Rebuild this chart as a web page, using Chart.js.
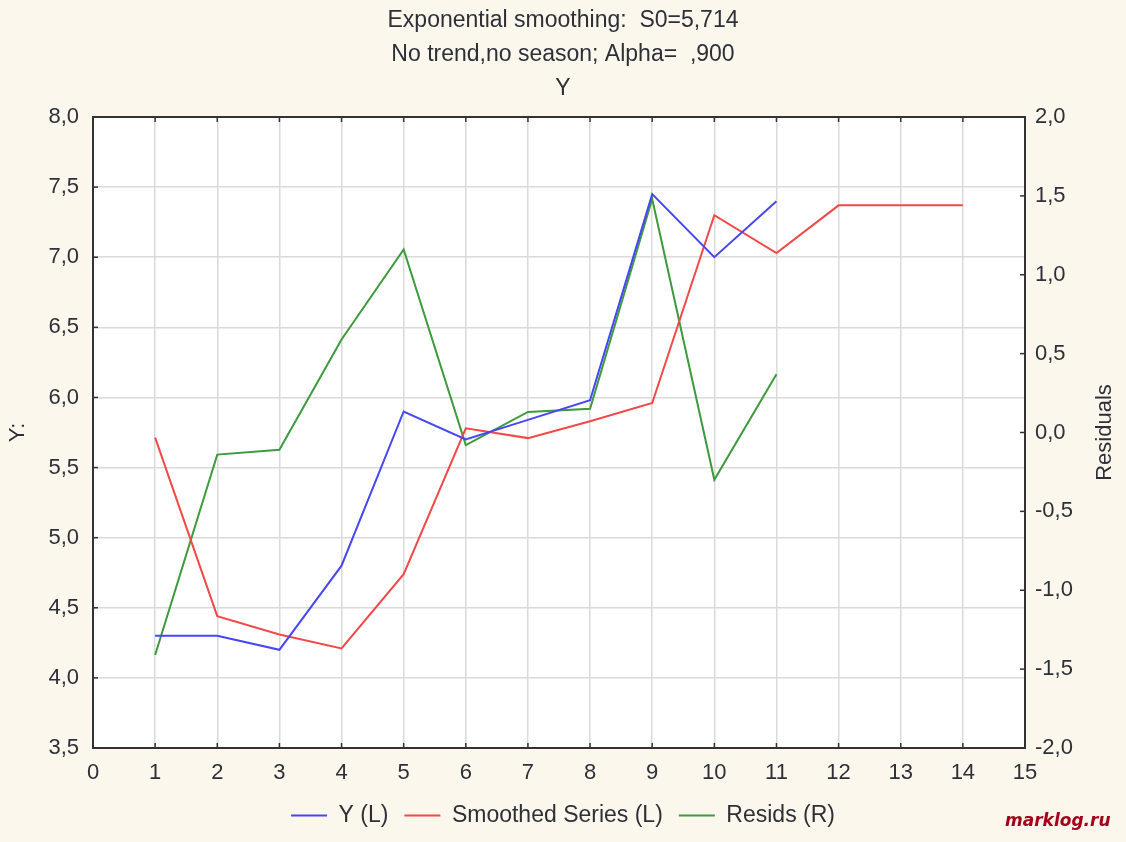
<!DOCTYPE html>
<html>
<head>
<meta charset="utf-8">
<title>Exponential smoothing</title>
<style>
  html, body { margin: 0; padding: 0; background: #fcf7ec; }
  #wrap { width: 1126px; height: 842px; }
</style>
<script src="https://cdn.jsdelivr.net/npm/chart.js@4.4.1/dist/chart.umd.min.js"></script>
</head>
<body>
<div id="wrap"><canvas id="chart" width="1126" height="842"></canvas></div>
<script>
// ---- data ----
const titleLines = ['Exponential smoothing:  S0=5,714', 'No trend,no season; Alpha=  ,900', 'Y'];
const seriesNames = ['Y (L)', 'Smoothed Series (L)', 'Resids (R)'];
const xValues = [1, 2, 3, 4, 5, 6, 7, 8, 9, 10, 11, 12, 13, 14];
const ySeries = [4.30, 4.30, 4.20, 4.80, 5.90, 5.70, 5.84, 5.98, 7.45, 7.00, 7.40];
const smoothedSeries = [5.714, 4.44, 4.31, 4.21, 4.74, 5.78, 5.71, 5.83, 5.96, 7.30, 7.03, 7.37, 7.37, 7.37];
const residSeries = [-1.41, -0.14, -0.11, 0.59, 1.16, -0.08, 0.13, 0.15, 1.48, -0.30, 0.37];
const xAxisRange = [0, 15];
const leftAxisRange = [3.5, 8.0];
const rightAxisRange = [-2.0, 2.0];
const leftAxisTitle = 'Y:';
const rightAxisTitle = 'Residuals';
const watermark = 'marklog.ru';

// ---- styles ----
const TEXT = '#2f2f38';
const BG = '#fcf7ec';
const GRID = '#dadada';
const AXIS = '#333333';
const FONT = "'Liberation Sans', Arial, sans-serif";
const colors = ['#4646f5', '#f24848', '#3d9a3d'];

const toPoints = (arr) => arr.map((v, i) => ({ x: xValues[i], y: v }));
const fmt = (v) => Number(v).toFixed(1).replace('.', ',');

const framePlugin = {
  id: 'frame',
  beforeDraw(chart) {
    const { ctx, chartArea: a } = chart;
    ctx.save();
    ctx.fillStyle = BG;
    ctx.fillRect(0, 0, chart.width, chart.height);
    ctx.fillStyle = '#ffffff';
    ctx.fillRect(a.left, a.top, a.right - a.left, a.bottom - a.top);
    ctx.restore();
  },
  afterDraw(chart) {
    const { ctx, chartArea: a } = chart;
    const sx = chart.scales.x, sy = chart.scales.y, sy1 = chart.scales.y1;
    ctx.save();
    ctx.strokeStyle = AXIS;
    ctx.lineWidth = 2;
    ctx.beginPath();
    ctx.moveTo(a.left - 1, a.top);
    ctx.lineTo(a.right + 1, a.top);
    ctx.stroke();
    ctx.lineWidth = 1.5;
    const seg = (x1, y1, x2, y2) => { ctx.beginPath(); ctx.moveTo(x1, y1); ctx.lineTo(x2, y2); ctx.stroke(); };
    sx.ticks.forEach(t => {
      const px = sx.getPixelForValue(t.value);
      seg(px, a.bottom, px, a.bottom - 5);
      seg(px, a.top, px, a.top + 5);
    });
    sy.ticks.forEach(t => {
      const py = sy.getPixelForValue(t.value);
      seg(a.left, py, a.left + 5, py);
    });
    sy1.ticks.forEach(t => {
      const py = sy1.getPixelForValue(t.value);
      seg(a.right, py, a.right - 5, py);
    });
    // right axis title (reads bottom to top)
    ctx.fillStyle = TEXT;
    ctx.font = '22px ' + FONT;
    ctx.textAlign = 'center';
    ctx.textBaseline = 'middle';
    ctx.translate(1105, (a.top + a.bottom) / 2);
    ctx.rotate(-Math.PI / 2);
    ctx.fillText(rightAxisTitle, 0, 0);
    ctx.restore();
    // watermark
    ctx.save();
    ctx.fillStyle = '#a3001b';
    ctx.font = "italic bold 17px 'DejaVu Sans', Verdana, sans-serif";
    ctx.textAlign = 'left';
    ctx.textBaseline = 'middle';
    ctx.fillText(watermark, 1005, 822);
    ctx.restore();
  }
};

Chart.defaults.font.family = FONT;
Chart.defaults.color = TEXT;

new Chart(document.getElementById('chart'), {
  type: 'line',
  data: {
    datasets: [
      { label: seriesNames[0], data: toPoints(ySeries), yAxisID: 'y', borderColor: colors[0], backgroundColor: colors[0], borderWidth: 2 },
      { label: seriesNames[1], data: toPoints(smoothedSeries), yAxisID: 'y', borderColor: colors[1], backgroundColor: colors[1], borderWidth: 2 },
      { label: seriesNames[2], data: toPoints(residSeries), yAxisID: 'y1', borderColor: colors[2], backgroundColor: colors[2], borderWidth: 2 }
    ]
  },
  options: {
    responsive: false,
    animation: false,
    layout: { padding: { left: 0, right: 0, top: 0, bottom: 5 } },
    elements: {
      line: { borderWidth: 2, tension: 0 },
      point: { radius: 0, hoverRadius: 0 }
    },
    plugins: {
      tooltip: { enabled: false },
      title: {
        display: true,
        text: titleLines,
        color: TEXT,
        font: { size: 23, weight: 'normal', lineHeight: '34px' },
        padding: { top: 4, bottom: 11 }
      },
      legend: {
        display: true,
        position: 'bottom',
        labels: {
          usePointStyle: true,
          pointStyle: 'line',
          pointStyleWidth: 36,
          padding: 16,
          color: TEXT,
          font: { size: 23 }
        }
      }
    },
    scales: {
      x: {
        type: 'linear',
        min: xAxisRange[0],
        max: xAxisRange[1],
        ticks: { stepSize: 1, padding: 12, color: TEXT, font: { size: 22 } },
        grid: { color: GRID, lineWidth: 1.5, drawTicks: false },
        border: { color: AXIS, width: 2 },
        afterFit(s) { s.height = 40; }
      },
      y: {
        position: 'left',
        min: leftAxisRange[0],
        max: leftAxisRange[1],
        ticks: { stepSize: 0.5, padding: 14, color: TEXT, font: { size: 22 }, callback: (v) => fmt(v) },
        grid: { color: GRID, lineWidth: 1.5, drawTicks: false },
        border: { color: AXIS, width: 2 },
        title: { display: true, text: leftAxisTitle, color: TEXT, font: { size: 22 }, padding: { top: 5, bottom: 0 } },
        afterFit(s) { s.width = 93; }
      },
      y1: {
        position: 'right',
        min: rightAxisRange[0],
        max: rightAxisRange[1],
        ticks: { stepSize: 0.5, padding: 10, color: TEXT, font: { size: 22 }, callback: (v) => fmt(v) },
        grid: { drawOnChartArea: false, drawTicks: false },
        border: { color: AXIS, width: 2 },
        afterFit(s) { s.width = 101; }
      }
    }
  },
  plugins: [framePlugin]
});
</script>
</body>
</html>
